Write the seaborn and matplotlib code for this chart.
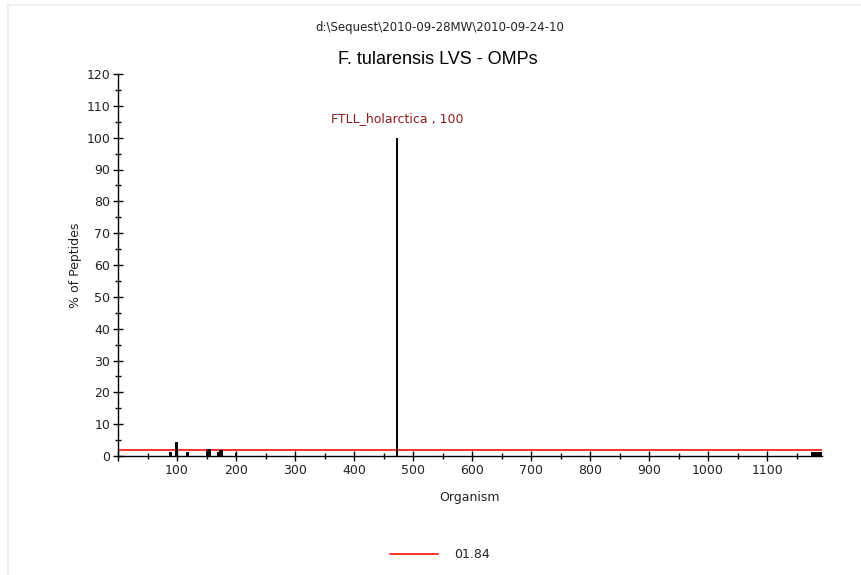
import matplotlib
matplotlib.use("Agg")
import matplotlib.pyplot as plt
from matplotlib.patches import Rectangle
from matplotlib.ticker import MultipleLocator
import seaborn as sns
import pandas as pd

# Organism index vs. percentage of peptides
organism = [89, 99, 118, 151, 153, 155, 170, 172, 174, 176, 200, 473,
            1177, 1178, 1179, 1180, 1181, 1182, 1183, 1184, 1185, 1186,
            1187, 1188, 1189, 1190, 1191, 1192]
pct_peptides = [1, 4, 1, 1.5, 2, 2, 0.8, 1, 1.5, 2, 1, 100,
                1, 1, 1, 1, 1, 1, 1, 1, 1, 1,
                1, 1, 1, 1, 1, 1]
threshold = 1.84
threshold_label = "01.84"
top_label = "FTLL_holarctica , 100"
top_org = 473
top_value = 100

df = pd.DataFrame({"Organism": organism, "Pct": pct_peptides})

sns.set_style("white")
plt.rcParams["font.family"] = ["DejaVu Sans"]

fig = plt.figure(figsize=(8.62, 5.75), dpi=100)
fig.patches.append(Rectangle((8 / 862, -0.01), 1.0, 1 - 5 / 575 + 0.01,
                             transform=fig.transFigure, fill=False,
                             edgecolor="#ececec", linewidth=1.2))
ax = fig.add_axes([118 / 862, 1 - 456 / 575, (822 - 118) / 862, (456 - 74) / 575])

# Threshold line spanning the whole axis
ax.axhline(threshold, color="#ff2020", linewidth=1.3, label=threshold_label, zorder=1)

sns.barplot(data=df, x="Organism", y="Pct", native_scale=True, color="black",
            width=1.0, edgecolor="black", linewidth=1.4, errorbar=None,
            saturation=1, ax=ax, zorder=2, legend=False)
if ax.get_legend() is not None:
    ax.get_legend().remove()

ax.annotate(top_label, xy=(top_org, top_value), xytext=(0, 14),
            textcoords="offset points", ha="center", va="center",
            color="#8f1c1c", fontsize=9)

ax.set_xlim(0, 1193)
ax.set_ylim(0, 120)
ax.xaxis.set_major_locator(MultipleLocator(100))
ax.xaxis.set_minor_locator(MultipleLocator(50))
ax.yaxis.set_major_locator(MultipleLocator(10))
ax.yaxis.set_minor_locator(MultipleLocator(5))
xt = ax.get_xticks()
ax.set_xticklabels([("" if t == 0 else f"{int(t)}") for t in xt])
ax.tick_params(axis="both", which="major", direction="inout", length=7,
               width=1, color="black", labelsize=9, labelcolor="#222222", pad=2)
ax.tick_params(axis="both", which="minor", direction="inout", length=5,
               width=1, color="black")
ax.tick_params(axis="x", which="both", bottom=True)
ax.tick_params(axis="y", which="both", left=True)

for side in ("top", "right"):
    ax.spines[side].set_visible(False)
for side in ("left", "bottom"):
    ax.spines[side].set_color("black")
    ax.spines[side].set_linewidth(1)

ax.set_xlabel("Organism", fontsize=9, color="#222222", labelpad=10)
ax.set_ylabel("% of Peptides", fontsize=9, color="#222222", labelpad=3)

fig.text(440 / 862, 1 - 27 / 575, r"d:\Sequest\2010-09-28MW\2010-09-24-10",
         ha="center", va="center", fontsize=8.5, color="#222222")
fig.text(438 / 862, 1 - 60 / 575, "F. tularensis LVS - OMPs", ha="center",
         va="center", fontsize=13, color="black", family="Liberation Sans")

leg = fig.legend(handles=ax.get_lines()[:1], labels=[threshold_label],
                 loc="center", bbox_to_anchor=(440 / 862, 1 - 555 / 575), frameon=False,
                 fontsize=9, handlelength=3.9, handletextpad=1.3)
for t in leg.get_texts():
    t.set_color("#222222")

fig.savefig("out.png", dpi=100, facecolor="white")
